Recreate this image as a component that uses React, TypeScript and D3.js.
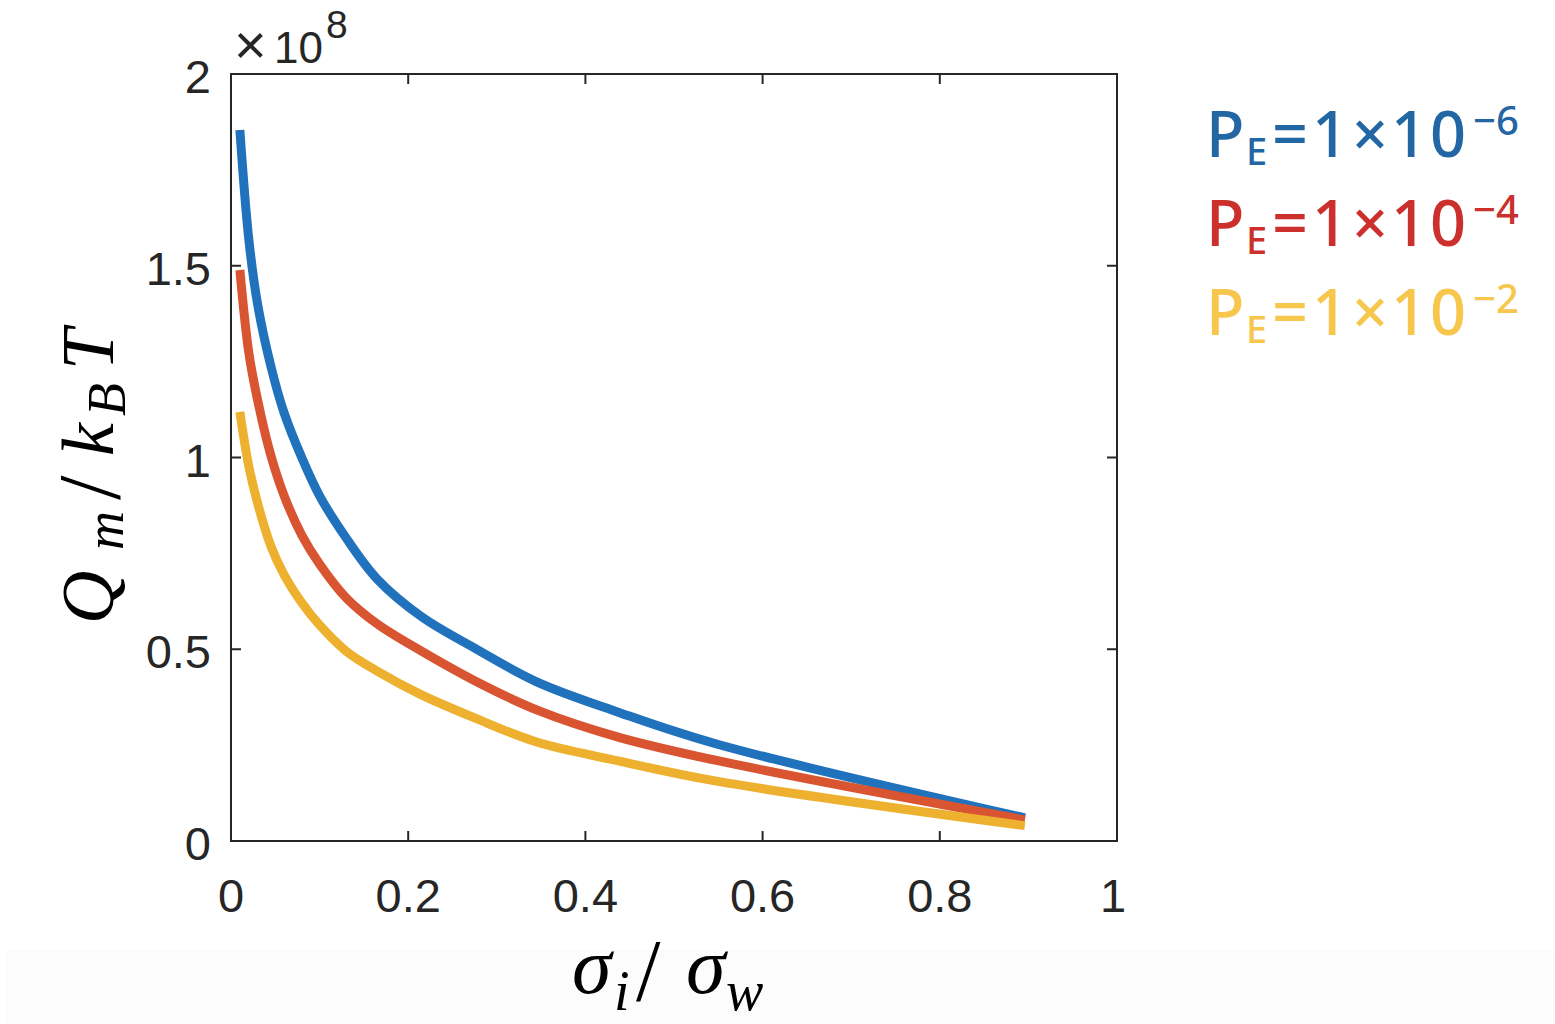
import React from "react";
import * as d3 from "d3";

const xValues = [0.01, 0.02, 0.03, 0.045, 0.06, 0.08, 0.1, 0.13, 0.165, 0.215, 0.275, 0.345, 0.437, 0.548, 0.896];
const blueValues = [1.854, 1.571, 1.4, 1.238, 1.116, 0.999, 0.9, 0.79, 0.683, 0.585, 0.503, 0.415, 0.336, 0.253, 0.06];
const redValues = [1.489, 1.275, 1.15, 1.005, 0.9, 0.797, 0.722, 0.634, 0.566, 0.495, 0.418, 0.342, 0.271, 0.21, 0.055];
const yellowValues = [1.119, 0.978, 0.881, 0.769, 0.694, 0.621, 0.563, 0.495, 0.443, 0.381, 0.321, 0.258, 0.209, 0.156, 0.04];

const seriesValues = [blueValues, redValues, yellowValues];
const lineColors = ["#2172bd", "#d95430", "#edb12f"];
const legendColors = ["#2266a3", "#cb302c", "#f6c64d"];
const legendExponents = ["\u22126", "\u22124", "\u22122"];

const xTicks = [0, 0.2, 0.4, 0.6, 0.8, 1];
const xTickLabels = ["0", "0.2", "0.4", "0.6", "0.8", "1"];
const yTicks = [0, 0.5, 1, 1.5, 2];
const yTickLabels = ["0", "0.5", "1", "1.5", "2"];

const L = 231, R = 1117, T = 74, B = 841;

export default function App() {
  const x = d3.scaleLinear().domain([0, 1]).range([L, R]);
  const y = d3.scaleLinear().domain([0, 2]).range([B, T]);
  const line = d3
    .line<number>()
    .x((_, i) => x(xValues[i]))
    .y((d) => y(d))
    .curve(d3.curveCatmullRom.alpha(0.5));
  const axisColor = "#262626";
  const tickLen = 10;
  const tickFont = "'Liberation Sans', Arial, sans-serif";
  const serif = "'Liberation Serif', 'Times New Roman', serif";
  const legendFont = "'Noto Sans', sans-serif";

  return (
    <svg
      width={1555}
      height={1024}
      style={{ position: "absolute", left: 0, top: 0, display: "block" }}
    >
      <rect x={0} y={0} width={1555} height={1024} fill="#ffffff" />
      <rect x={7} y={950} width={1548} height={74} fill="#fcfcfc" />

      {/* lines */}
      {seriesValues.map((vals, i) => (
        <path
          key={i}
          d={line(vals) || ""}
          fill="none"
          stroke={lineColors[i]}
          strokeWidth={9}
          strokeLinecap="butt"
          strokeLinejoin="round"
        />
      ))}

      {/* box */}
      <rect x={L} y={T} width={R - L} height={B - T} fill="none" stroke={axisColor} strokeWidth={2} />

      {/* x ticks */}
      {xTicks.map((t, i) => (
        <g key={"xt" + i}>
          <line x1={x(t)} x2={x(t)} y1={B} y2={B - tickLen} stroke={axisColor} strokeWidth={2} />
          <line x1={x(t)} x2={x(t)} y1={T} y2={T + tickLen} stroke={axisColor} strokeWidth={2} />
          <text
            x={x(t) - (i === xTicks.length - 1 ? 4 : 0)}
            y={912}
            textAnchor="middle"
            fontFamily={tickFont}
            fontSize={47}
            fill={axisColor}
          >
            {xTickLabels[i]}
          </text>
        </g>
      ))}

      {/* y ticks */}
      {yTicks.map((t, i) => (
        <g key={"yt" + i}>
          <line x1={L} x2={L + tickLen} y1={y(t)} y2={y(t)} stroke={axisColor} strokeWidth={2} />
          <line x1={R} x2={R - tickLen} y1={y(t)} y2={y(t)} stroke={axisColor} strokeWidth={2} />
          <text
            x={211}
            y={y(t) + 19}
            textAnchor="end"
            fontFamily={tickFont}
            fontSize={47}
            fill={axisColor}
          >
            {yTickLabels[i]}
          </text>
        </g>
      ))}

      {/* exponent */}
      <text fontFamily={tickFont} fill={axisColor}>
        <tspan x={234} y={64} fontSize={56}>×</tspan>
        <tspan x={274} y={63} fontSize={44}>10</tspan>
        <tspan x={326} y={38} fontSize={39}>8</tspan>
      </text>

      {/* y label */}
      <g transform={`translate(113, 624) rotate(-90)`}>
        <text fontFamily={serif} fontStyle="italic" fill="#000" fontSize={74}>
          <tspan x={0} y={0}>Q</tspan>
          <tspan x={74} y={10} fontSize={54}>m</tspan>
          <tspan x={124} y={6} fontStyle="normal" fontSize={88}>/</tspan>
          <tspan x={168} y={0}>k</tspan>
          <tspan x={208} y={12} fontSize={54}>B</tspan>
          <tspan x={254} y={0}>T</tspan>
        </text>
      </g>

      {/* x label */}
      <text fontFamily={serif} fontStyle="italic" fill="#000" fontSize={80}>
        <tspan x={572} y={993}>σ</tspan>
        <tspan x={614} y={1010} fontSize={56}>i</tspan>
        <tspan x={636} y={1000} fontStyle="normal" fontSize={88}>/</tspan>
        <tspan x={686} y={993}>σ</tspan>
        <tspan x={726} y={1010} fontSize={56}>w</tspan>
      </text>

      {/* legend */}
      {legendExponents.map((e, i) => {
        const base = 157 + i * 89;
        return (
          <text key={"lg" + i} fontFamily={legendFont} fontWeight={500} fill={legendColors[i]}>
            <tspan x={1206} y={base} fontSize={63}>P</tspan>
            <tspan x={1246} y={base + 8} fontSize={38}>E</tspan>
            <tspan x={1272} y={base} fontSize={63}>=</tspan>
            <tspan x={1312} y={base} fontSize={63}>1</tspan>
            <tspan x={1352} y={base} fontSize={63}>×</tspan>
            <tspan x={1391} y={base} fontSize={63} letterSpacing={3}>10</tspan>
            <tspan x={1473} y={base - 22} fontSize={40}>{e}</tspan>
          </text>
        );
      })}
    </svg>
  );
}
